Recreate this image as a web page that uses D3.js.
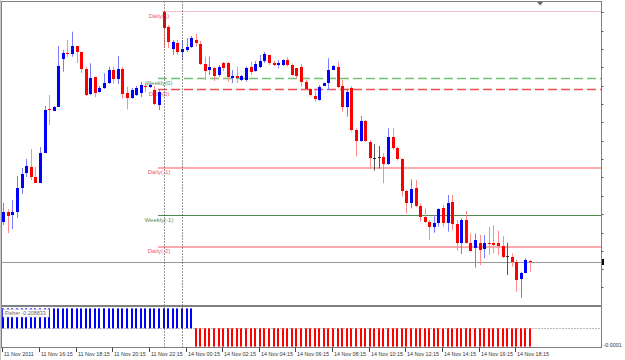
<!DOCTYPE html>
<html>
<head>
<meta charset="utf-8">
<script src="https://cdn.jsdelivr.net/npm/d3@7"></script>
<style>
  html, body { margin: 0; padding: 0; background: #fff; }
  svg { display: block; font-family: "Liberation Sans", Arial, sans-serif; }
</style>
</head>
<body>
<div id="chart"></div>
<script>
// M15 candles, 11 Nov 2011 14:15 -> 14 Nov 2011 19:00 (116 bars)
const opens = [
  1.36783, 1.36877, 1.36850, 1.36880, 1.37120, 1.37270, 1.37330, 1.37230, 1.37170, 1.37470,
  1.37913, 1.37893, 1.37930, 1.38410, 1.38473, 1.38457, 1.38540, 1.38483, 1.38307, 1.38060,
  1.38227, 1.38083, 1.38117, 1.38167, 1.38300, 1.38207, 1.38307, 1.38073, 1.38017, 1.38050,
  1.38070, 1.38140, 1.38127, 1.38100, 1.37950, 1.38883, 1.38733, 1.38510, 1.38573, 1.38480,
  1.38500, 1.38533, 1.38600, 1.38557, 1.38357, 1.38300, 1.38323, 1.38250, 1.38367, 1.38367,
  1.38223, 1.38243, 1.38200, 1.38200, 1.38333, 1.38290, 1.38333, 1.38390, 1.38450, 1.38373,
  1.38350, 1.38350, 1.38400, 1.38350, 1.38317, 1.38327, 1.38183, 1.38107, 1.38040, 1.38000,
  1.38140, 1.38167, 1.38300, 1.38333, 1.38143, 1.37933, 1.38120, 1.37700, 1.37593, 1.37790,
  1.37583, 1.37417, 1.37427, 1.37427, 1.37357, 1.37633, 1.37517, 1.37407, 1.37093, 1.36973,
  1.37117, 1.36940, 1.36833, 1.36783, 1.36733, 1.36773, 1.36917, 1.36767, 1.36983, 1.36760,
  1.36573, 1.36800, 1.36573, 1.36517, 1.36573, 1.36507, 1.36573, 1.36567, 1.36573, 1.36540,
  1.36440, 1.36433, 1.36383, 1.36207, 1.36273, 1.36393
];
const highs = [
  1.36970, 1.36910, 1.37000, 1.37240, 1.37320, 1.37410, 1.37510, 1.37330, 1.37530, 1.37940,
  1.38050, 1.37940, 1.38540, 1.38500, 1.38600, 1.38683, 1.38540, 1.38483, 1.38333, 1.38367,
  1.38227, 1.38140, 1.38267, 1.38333, 1.38333, 1.38440, 1.38333, 1.38133, 1.38120, 1.38140,
  1.38180, 1.38170, 1.38160, 1.38140, 1.38100, 1.38890, 1.38750, 1.38600, 1.38600, 1.38600,
  1.38620, 1.38640, 1.38660, 1.38590, 1.38433, 1.38433, 1.38333, 1.38350, 1.38383, 1.38383,
  1.38300, 1.38333, 1.38250, 1.38333, 1.38383, 1.38390, 1.38450, 1.38480, 1.38450, 1.38393,
  1.38400, 1.38407, 1.38427, 1.38367, 1.38317, 1.38360, 1.38200, 1.38117, 1.38100, 1.38150,
  1.38173, 1.38417, 1.38350, 1.38383, 1.38200, 1.38100, 1.38140, 1.37717, 1.37840, 1.37800,
  1.37600, 1.37560, 1.37540, 1.37467, 1.37717, 1.37717, 1.37530, 1.37417, 1.37100, 1.37207,
  1.37200, 1.36967, 1.36917, 1.36800, 1.36850, 1.36917, 1.36950, 1.37050, 1.37050, 1.36800,
  1.36817, 1.36890, 1.36667, 1.36667, 1.36650, 1.36650, 1.36733, 1.36750, 1.36693, 1.36640,
  1.36573, 1.36467, 1.36400, 1.36283, 1.36417, 1.36400
];
const lows = [
  1.36750, 1.36670, 1.36710, 1.36820, 1.37060, 1.37230, 1.37200, 1.37170, 1.37170, 1.37470,
  1.37750, 1.37890, 1.37930, 1.38283, 1.38433, 1.38433, 1.38370, 1.38270, 1.38040, 1.38050,
  1.38027, 1.38073, 1.38110, 1.38160, 1.38167, 1.38160, 1.38013, 1.37907, 1.38010, 1.38040,
  1.38030, 1.38080, 1.38120, 1.37950, 1.37900, 1.38520, 1.38520, 1.38450, 1.38450, 1.38400,
  1.38480, 1.38520, 1.38533, 1.38350, 1.38200, 1.38250, 1.38190, 1.38230, 1.38290, 1.38183,
  1.38170, 1.38170, 1.38190, 1.38183, 1.38250, 1.38283, 1.38320, 1.38370, 1.38350, 1.38340,
  1.38317, 1.38340, 1.38333, 1.38243, 1.38217, 1.38133, 1.38100, 1.38033, 1.37983, 1.37993,
  1.38140, 1.38100, 1.38300, 1.38117, 1.37883, 1.37833, 1.37683, 1.37433, 1.37583, 1.37583,
  1.37317, 1.37293, 1.37317, 1.37167, 1.37350, 1.37500, 1.37393, 1.37033, 1.36867, 1.36917,
  1.36927, 1.36783, 1.36770, 1.36600, 1.36673, 1.36733, 1.36733, 1.36683, 1.36700, 1.36493,
  1.36460, 1.36567, 1.36483, 1.36323, 1.36350, 1.36417, 1.36450, 1.36467, 1.36450, 1.36417,
  1.36250, 1.36333, 1.36083, 1.36020, 1.36267, 1.36283
];
const closes = [
  1.36883, 1.36843, 1.36877, 1.37120, 1.37260, 1.37340, 1.37230, 1.37170, 1.37470, 1.37900,
  1.37897, 1.37930, 1.38340, 1.38473, 1.38457, 1.38540, 1.38483, 1.38307, 1.38050, 1.38217,
  1.38073, 1.38117, 1.38167, 1.38300, 1.38210, 1.38307, 1.38060, 1.38017, 1.38100, 1.38123,
  1.38150, 1.38127, 1.38145, 1.37960, 1.38080, 1.38723, 1.38583, 1.38580, 1.38483, 1.38510,
  1.38533, 1.38623, 1.38567, 1.38357, 1.38293, 1.38333, 1.38243, 1.38333, 1.38323, 1.38233,
  1.38243, 1.38223, 1.38240, 1.38317, 1.38283, 1.38360, 1.38390, 1.38460, 1.38373, 1.38350,
  1.38373, 1.38400, 1.38350, 1.38250, 1.38240, 1.38183, 1.38107, 1.38050, 1.38007, 1.38133,
  1.38167, 1.38300, 1.38340, 1.38133, 1.37933, 1.38083, 1.37700, 1.37593, 1.37790, 1.37593,
  1.37417, 1.37417, 1.37427, 1.37357, 1.37627, 1.37517, 1.37407, 1.37093, 1.36973, 1.37107,
  1.36940, 1.36833, 1.36783, 1.36733, 1.36773, 1.36907, 1.36767, 1.36973, 1.36760, 1.36573,
  1.36800, 1.36573, 1.36493, 1.36600, 1.36500, 1.36573, 1.36560, 1.36553, 1.36540, 1.36433,
  1.36440, 1.36383, 1.36200, 1.36273, 1.36400, 1.36380
];

// Fisher histogram, one value per bar
const fisher = [
  0.227, 0.227, 0.227, 0.227, 0.227, 0.227, 0.227, 0.227, 0.227, 0.227,
  0.227, 0.227, 0.227, 0.227, 0.227, 0.227, 0.227, 0.227, 0.227, 0.227,
  0.227, 0.227, 0.227, 0.227, 0.227, 0.227, 0.227, 0.227, 0.227, 0.227,
  0.227, 0.227, 0.227, 0.227, 0.227, 0.227, 0.227, 0.227, 0.227, 0.227,
  0.227, 0.227, -0.2088, -0.2088, -0.2088, -0.2088, -0.2088, -0.2088, -0.2088, -0.2088,
  -0.2088, -0.2088, -0.2088, -0.2088, -0.2088, -0.2088, -0.2088, -0.2088, -0.2088, -0.2088,
  -0.2088, -0.2088, -0.2088, -0.2088, -0.2088, -0.2088, -0.2088, -0.2088, -0.2088, -0.2088,
  -0.2088, -0.2088, -0.2088, -0.2088, -0.2088, -0.2088, -0.2088, -0.2088, -0.2088, -0.2088,
  -0.2088, -0.2088, -0.2088, -0.2088, -0.2088, -0.2088, -0.2088, -0.2088, -0.2088, -0.2088,
  -0.2088, -0.2088, -0.2088, -0.2088, -0.2088, -0.2088, -0.2088, -0.2088, -0.2088, -0.2088,
  -0.2088, -0.2088, -0.2088, -0.2088, -0.2088, -0.2088, -0.2088, -0.2088, -0.2088, -0.2088,
  -0.2088, -0.2088, -0.2088, -0.2088, -0.2088, -0.2088
];
const fisherLabel = "Fisher -0.208833";
const fisherAxisLabel = "-0.0001";

// pivot levels
const levelNames = ["Daily(1)", "Weekly(0)", "Daily(0)", "Daily(-1)", "Weekly(-1)", "Daily(-2)"];
const levelPrices = [1.3889, 1.3822, 1.3811, 1.3732, 1.3685, 1.3653];
const levelStartBar = [35, 34, 34, 34, 34, 34];

const bidPrice = 1.36380;
const separatorBars = [35, 39];
const shiftMarkerBar = 117.2;

// time axis
const timeTickBars = [0, 8, 16, 24, 32, 40, 48, 56, 64, 72, 80, 88, 96, 104, 112];
const timeLabels = ["11 Nov 2011", "11 Nov 16:15", "11 Nov 18:15", "11 Nov 20:15", "11 Nov 22:15",
  "14 Nov 00:15", "14 Nov 02:15", "14 Nov 04:15", "14 Nov 06:15", "14 Nov 08:15",
  "14 Nov 10:15", "14 Nov 12:15", "14 Nov 14:15", "14 Nov 16:15", "14 Nov 18:15"];

// price axis tick marks (labels hidden on this chart)
const priceTicks = [1.38877, 1.38693, 1.38510, 1.38327, 1.38143, 1.37960, 1.37777, 1.37593,
  1.37410, 1.37227, 1.37040, 1.36857, 1.36673, 1.36493, 1.36307, 1.36127];

const W = 625, H = 360;
const main = { left: 1.5, right: 601.5, top: 1.5, bottom: 305.5 };
const sub = { top: 306.5, bottom: 347.5 };

const svg = d3.select("#chart").append("svg").attr("width", W).attr("height", H);
svg.append("rect").attr("width", W).attr("height", H).attr("fill", "#fff");

const x = d3.scaleLinear().domain([0, 115]).range([3.3, 530]);
const y = d3.scaleLinear().domain([1.3595, 1.3898]).range([305, 2]);
const yf = d3.scaleLinear().domain([-0.2088, 0.227]).range([346.6, 308.4]);

const px = v => Math.round(v) + 0.5;

svg.append("clipPath").attr("id", "clipMain")
  .append("rect").attr("x", main.left).attr("y", main.top)
  .attr("width", main.right - main.left).attr("height", main.bottom - main.top);
svg.append("clipPath").attr("id", "clipSub")
  .append("rect").attr("x", main.left).attr("y", sub.top)
  .attr("width", main.right - main.left).attr("height", sub.bottom - sub.top);

// outer left edge
svg.append("line").attr("x1", 0.5).attr("x2", 0.5).attr("y1", 0).attr("y2", H)
  .attr("stroke", "#c8c8c8");

const gMain = svg.append("g").attr("clip-path", "url(#clipMain)");
const gSub = svg.append("g").attr("clip-path", "url(#clipSub)");

// period separators
separatorBars.forEach(b => {
  svg.append("line")
    .attr("x1", px(x(b))).attr("x2", px(x(b)))
    .attr("y1", main.top).attr("y2", sub.bottom)
    .attr("stroke", "#333").attr("stroke-dasharray", "1,2");
});

// bid line
gMain.append("line")
  .attr("x1", main.left).attr("x2", main.right)
  .attr("y1", px(y(bidPrice))).attr("y2", px(y(bidPrice)))
  .attr("stroke", "#999");

// pivot level lines
const levelStyle = [
  { stroke: "#ff7a8a", width: 1, dash: "1,1", text: "#ee5a70" },
  { stroke: "#74c074", width: 1.5, dash: "9,4", text: "#5d8f5d" },
  { stroke: "#ee5050", width: 1.5, dash: "9,4", text: "#ee5a70" },
  { stroke: "#ffaaaa", width: 2, dash: null, text: "#ee5a70" },
  { stroke: "#4e8a4e", width: 1, dash: null, text: "#5d8f5d" },
  { stroke: "#ffaaaa", width: 2, dash: null, text: "#ee5a70" }
];
levelNames.forEach((name, k) => {
  const st = levelStyle[k];
  const yy = st.width === 2 ? Math.round(y(levelPrices[k])) : px(y(levelPrices[k]));
  const ln = gMain.append("line")
    .attr("x1", x(levelStartBar[k]) - 1).attr("x2", main.right)
    .attr("y1", yy).attr("y2", yy)
    .attr("stroke", st.stroke).attr("stroke-width", st.width);
  if (st.dash) ln.attr("stroke-dasharray", st.dash);
  gMain.append("text")
    .attr("x", x(34)).attr("y", yy + 6)
    .attr("text-anchor", "middle")
    .attr("font-size", "6px")
    .attr("fill", st.text)
    .text(name);
});

// candles
const candles = d3.range(opens.length).map(i => ({
  i, o: opens[i], h: highs[i], l: lows[i], c: closes[i]
}));
const wickColor = d => d.c > d.o ? "#7c7cff" : d.c < d.o ? "#ff8c8c" : "#555";
const bodyColor = d => d.c > d.o ? "#0000ff" : d.c < d.o ? "#ff0000" : "#333";

gMain.selectAll(".wick").data(candles).join("line")
  .attr("class", "wick")
  .attr("x1", d => px(x(d.i))).attr("x2", d => px(x(d.i)))
  .attr("y1", d => y(d.h)).attr("y2", d => y(d.l))
  .attr("stroke", wickColor);

gMain.selectAll(".body").data(candles).join("rect")
  .attr("class", "body")
  .attr("x", d => Math.round(x(d.i)) - 1)
  .attr("width", d => d.c === d.o ? 3 : 3)
  .attr("y", d => Math.round(y(Math.max(d.o, d.c))))
  .attr("height", d => Math.max(1, Math.round(y(Math.min(d.o, d.c))) - Math.round(y(Math.max(d.o, d.c)))))
  .attr("fill", bodyColor);

// indicator zero level
gSub.append("line")
  .attr("x1", main.left).attr("x2", main.right)
  .attr("y1", px(yf(0))).attr("y2", px(yf(0)))
  .attr("stroke", "#777").attr("stroke-dasharray", "1,2");

gSub.selectAll(".hist").data(fisher.map((v, i) => ({ i, v }))).join("rect")
  .attr("class", "hist")
  .attr("x", d => Math.round(x(d.i)) - 1)
  .attr("width", 2)
  .attr("y", d => d.v >= 0 ? yf(d.v) : yf(0))
  .attr("height", d => Math.abs(yf(d.v) - yf(0)))
  .attr("fill", d => d.v >= 0 ? "#0000ff" : "#ff0000");

// indicator name box
const nameBox = svg.append("g");
nameBox.append("rect").attr("x", 3).attr("y", 309.5).attr("width", 46).attr("height", 7.5)
  .attr("fill", "#fff").attr("stroke", "#d4d4d4").attr("stroke-width", 0.6);
nameBox.append("text").attr("x", 5).attr("y", 315.3)
  .attr("font-size", "5.4px").attr("fill", "#666").text(fisherLabel);

// frames
svg.append("rect")
  .attr("x", main.left).attr("y", main.top)
  .attr("width", main.right - main.left).attr("height", main.bottom - main.top)
  .attr("fill", "none").attr("stroke", "#808080");
svg.append("rect")
  .attr("x", main.left).attr("y", sub.top)
  .attr("width", main.right - main.left).attr("height", sub.bottom - sub.top)
  .attr("fill", "none").attr("stroke", "#808080");

// price tick marks on right edge
svg.selectAll(".ptick").data(priceTicks).join("line")
  .attr("class", "ptick")
  .attr("x1", main.right).attr("x2", main.right + 2)
  .attr("y1", d => px(y(d))).attr("y2", d => px(y(d)))
  .attr("stroke", "#555");

// current price marker
svg.append("rect")
  .attr("x", main.right + 0.5).attr("y", Math.round(y(bidPrice)) - 3)
  .attr("width", 2).attr("height", 6).attr("fill", "#000");

// chart shift marker
const sx = x(shiftMarkerBar);
svg.append("path")
  .attr("d", `M${sx - 3},${main.top + 0.5}L${sx + 3},${main.top + 0.5}L${sx},${main.top + 4}Z`)
  .attr("fill", "#666");

// indicator axis label
svg.append("text").attr("x", 603.5).attr("y", 347)
  .attr("font-size", "5.4px").attr("fill", "#333").text(fisherAxisLabel);

// time axis
const tAxis = svg.append("g");
timeTickBars.forEach((b, k) => {
  const tx = px(x(b)) - 1;
  tAxis.append("line").attr("x1", tx).attr("x2", tx)
    .attr("y1", sub.bottom).attr("y2", sub.bottom + 4.5).attr("stroke", "#444");
  tAxis.append("text").attr("x", tx + 1.5).attr("y", 355.8)
    .attr("font-size", "5.4px").attr("fill", "#333").text(timeLabels[k]);
});
</script>
</body>
</html>
